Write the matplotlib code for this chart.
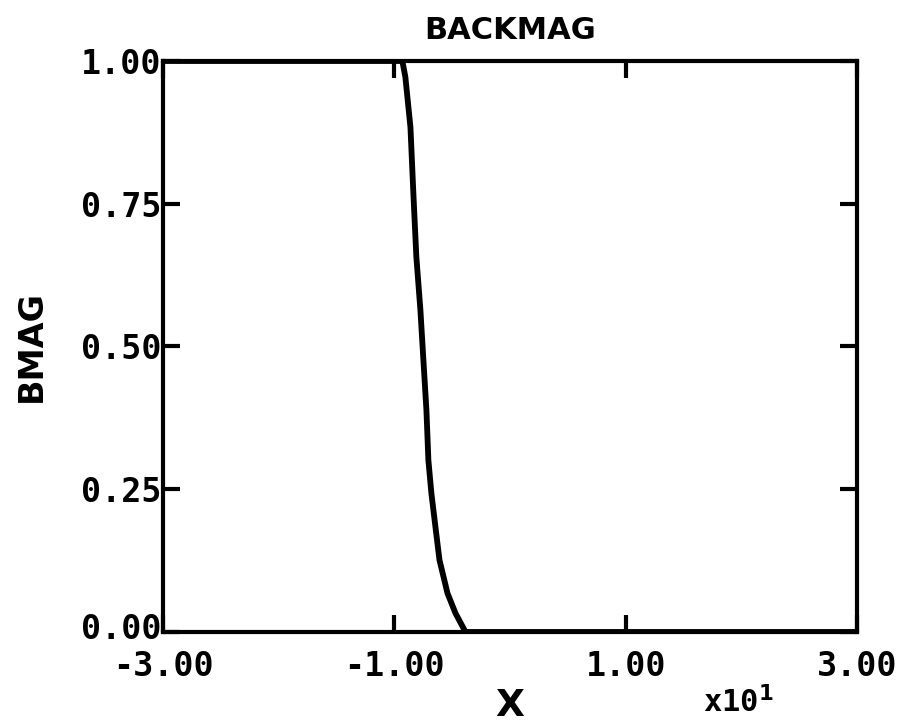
import numpy as np
import matplotlib.pyplot as plt
from matplotlib.transforms import ScaledTranslation

# BMAG profile against X (X in units of 10^1)
x = [-3.00, -0.931, -0.905, -0.861, -0.836, -0.810, -0.775, -0.749, -0.723,
     -0.706, -0.680, -0.645, -0.610, -0.541, -0.472, -0.385, 3.00]
bmag = [1.00, 1.00, 0.972, 0.884, 0.769, 0.657, 0.564, 0.476, 0.389,
        0.301, 0.243, 0.184, 0.126, 0.068, 0.033, 0.000, 0.000]

xticks = [-3.0, -1.0, 1.0, 3.0]
yticks = [0.0, 0.25, 0.50, 0.75, 1.00]

plt.rcParams['font.family'] = 'DejaVu Sans Mono'
plt.rcParams['font.weight'] = 'bold'

fig = plt.figure(figsize=(9.18, 7.27), dpi=100)
ax = fig.add_axes([0.1776, 0.1307, 0.7560, 0.7854])

ax.plot(x, bmag, color='black', lw=4.2, solid_capstyle='round', clip_on=True)

ax.set_xlim(-3, 3)
ax.set_ylim(0, 1)
ax.set_xticks(xticks)
ax.set_yticks(yticks)
ax.set_xticklabels(['%.2f' % v for v in xticks], fontsize=24)
ax.set_yticklabels(['%.2f' % v for v in yticks], fontsize=24)
ax.tick_params(axis='both', direction='in', length=12, width=3,
               top=True, right=True, color='black')
ax.tick_params(axis='x', pad=13)
ax.tick_params(axis='y', pad=1)
for s in ax.spines.values():
    s.set_linewidth(3)

# lift the 0.00 label a little so it sits clear of -3.00
lbl0 = ax.get_yticklabels()[0]
lbl0.set_transform(lbl0.get_transform() + ScaledTranslation(0, 4 / 72, fig.dpi_scale_trans))

ax.set_title('BACKMAG', fontsize=22, family='DejaVu Sans', fontweight='bold', pad=16)
ax.set_ylabel('BMAG', fontsize=24, family='DejaVu Sans', fontweight='bold', labelpad=24)
fig.text(0.5556, 0.004, 'X', fontsize=27, family='DejaVu Sans', ha='center', va='bottom')
fig.text(0.804, 0.012, r'x10$^{1}$', fontsize=22, ha='center', va='bottom')

fig.savefig('out.png', dpi=100)
